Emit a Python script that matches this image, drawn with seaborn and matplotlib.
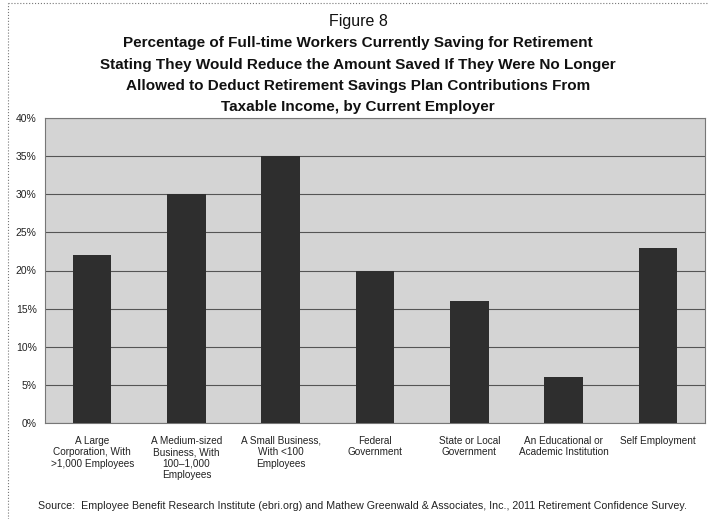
import matplotlib
matplotlib.use("Agg")
import matplotlib.pyplot as plt
import seaborn as sns
import pandas as pd
from matplotlib.lines import Line2D

employers = [
    "A Large\nCorporation, With\n>1,000 Employees",
    "A Medium-sized\nBusiness, With\n100\u20131,000\nEmployees",
    "A Small Business,\nWith <100\nEmployees",
    "Federal\nGovernment",
    "State or Local\nGovernment",
    "An Educational or\nAcademic Institution",
    "Self Employment",
]
pct_reduce = [22, 30, 35, 20, 16, 6, 23]
y_ticks = [0, 5, 10, 15, 20, 25, 30, 35, 40]

df = pd.DataFrame({"employer": employers, "pct": pct_reduce})

sns.set_theme(style="white")
plt.rcParams["font.family"] = ["Liberation Sans", "DejaVu Sans"]

W, H = 709, 519
fig = plt.figure(figsize=(W / 100, H / 100), dpi=100)
ax = fig.add_axes([45 / W, 1 - 423 / H, 660 / W, 305 / H])
ax.set_facecolor("#d4d4d4")

sns.barplot(data=df, x="employer", y="pct", color="#2e2e2e", width=0.41,
            saturation=1, linewidth=0, ax=ax, zorder=3)

ax.set_ylim(0, 40)
ax.set_xlim(-0.5, len(employers) - 0.5)
ax.set_yticks(y_ticks)
ax.set_yticklabels([f"{t}%" for t in y_ticks], fontsize=7.5, color="#222222")
ax.tick_params(axis="y", length=0, pad=6)
ax.tick_params(axis="x", length=0, pad=9, labelsize=7.2, labelcolor="#222222")
for lab in ax.get_xticklabels():
    lab.set_linespacing(1.2)
ax.yaxis.grid(True, color="#555555", linewidth=0.8, zorder=1)
ax.set_axisbelow(True)
ax.set_xlabel("")
ax.set_ylabel("")
for s in ax.spines.values():
    s.set_color("#777777")
    s.set_linewidth(0.8)

# Heading
fig.text(0.505, 1 - 22 / H, "Figure 8", ha="center", va="center",
         fontsize=11.5, color="#111111")
heading = [
    "Percentage of Full-time Workers Currently Saving for Retirement",
    "Stating They Would Reduce the Amount Saved If They Were No Longer",
    "Allowed to Deduct Retirement Savings Plan Contributions From",
    "Taxable Income, by Current Employer",
]
for i, line in enumerate(heading):
    fig.text(0.505, 1 - (43 + 21.5 * i) / H, line, ha="center", va="center",
             fontsize=11, fontweight="bold", color="#111111")

fig.text(38 / W, 1 - 506 / H,
         "Source:  Employee Benefit Research Institute (ebri.org) and Mathew Greenwald & Associates, Inc., 2011 Retirement Confidence Survey.",
         ha="left", va="center", fontsize=7.7, color="#222222")

# dotted frame around the figure
fig.add_artist(Line2D([8 / W, 8 / W], [0, 1 - 3 / H], transform=fig.transFigure,
                      color="#777777", linestyle=":", linewidth=0.8))
fig.add_artist(Line2D([8 / W, 1], [1 - 3 / H, 1 - 3 / H], transform=fig.transFigure,
                      color="#777777", linestyle=":", linewidth=0.8))

fig.savefig("out.png", dpi=100, facecolor="white")
